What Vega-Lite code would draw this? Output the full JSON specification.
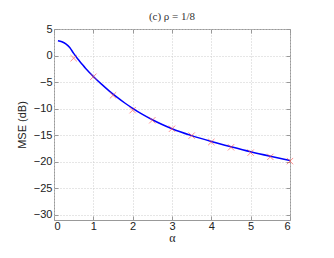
{
  "$schema": "https://vega.github.io/schema/vega-lite/v6.json",
  "autosize": "none",
  "width": 236,
  "height": 191,
  "padding": {"left": 54, "top": 29, "right": 44, "bottom": 38},
  "background": "white",
  "title": {"text": "(c) ρ = 1/8", "font": "Liberation Serif", "fontSize": 11, "fontWeight": "normal", "color": "#333333", "offset": 1},
  "datasets": {
    "curve": [
      {"alpha": 0.1, "mse": 2.8}, {"alpha": 0.2, "mse": 2.6}, {"alpha": 0.3, "mse": 2.2},
      {"alpha": 0.4, "mse": 1.5}, {"alpha": 0.5, "mse": 0.4}, {"alpha": 0.6, "mse": -0.6},
      {"alpha": 0.7, "mse": -1.5}, {"alpha": 0.8, "mse": -2.4}, {"alpha": 0.9, "mse": -3.2},
      {"alpha": 1.0, "mse": -3.95}, {"alpha": 1.2, "mse": -5.35}, {"alpha": 1.4, "mse": -6.65},
      {"alpha": 1.6, "mse": -7.85}, {"alpha": 1.8, "mse": -8.95}, {"alpha": 2.0, "mse": -9.95},
      {"alpha": 2.25, "mse": -11.1}, {"alpha": 2.5, "mse": -12.1}, {"alpha": 2.75, "mse": -13.0},
      {"alpha": 3.0, "mse": -13.8}, {"alpha": 3.5, "mse": -15.1}, {"alpha": 4.0, "mse": -16.2},
      {"alpha": 4.5, "mse": -17.2}, {"alpha": 5.0, "mse": -18.15}, {"alpha": 5.5, "mse": -19.0},
      {"alpha": 6.0, "mse": -19.8}
    ],
    "sim": [
      {"alpha": 0.5, "mse": -0.5}, {"alpha": 1.0, "mse": -4.0}, {"alpha": 1.5, "mse": -7.5},
      {"alpha": 2.0, "mse": -10.3}, {"alpha": 2.5, "mse": -12.2}, {"alpha": 3.0, "mse": -13.8},
      {"alpha": 3.5, "mse": -15.1}, {"alpha": 4.0, "mse": -16.3}, {"alpha": 4.5, "mse": -17.3},
      {"alpha": 5.0, "mse": -18.3}, {"alpha": 5.5, "mse": -19.1}, {"alpha": 6.0, "mse": -19.9}
    ]
  },
  "config": {
    "view": {"stroke": "#999999", "strokeWidth": 1},
    "axis": {
      "domain": false,
      "labelFont": "Liberation Sans",
      "labelFontSize": 11,
      "labelColor": "#222222",
      "titleFont": "Liberation Sans",
      "titleFontSize": 11,
      "titleFontWeight": "normal",
      "titleColor": "#222222",
      "tickColor": "#999999",
      "tickSize": -4,
      "labelPadding": 6,
      "gridColor": "#cccccc",
      "gridDash": [1, 2],
      "gridOpacity": 1
    }
  },
  "layer": [
    {
      "data": {"name": "curve"},
      "mark": {"type": "line", "color": "#0000ff", "strokeWidth": 1.5, "clip": true, "interpolate": "monotone"},
      "encoding": {
        "x": {"field": "alpha", "type": "quantitative",
              "scale": {"domain": [0, 6], "nice": false, "zero": false},
              "axis": {"values": [0, 1, 2, 3, 4, 5, 6], "title": "α", "titleFont": "Liberation Serif", "titleFontSize": 12, "titlePadding": 1, "labelPadding": 4}},
        "y": {"field": "mse", "type": "quantitative",
              "scale": {"domain": [-31, 5], "nice": false, "zero": false},
              "axis": {"values": [-30, -25, -20, -15, -10, -5, 0, 5], "title": "MSE (dB)", "titlePadding": 6}}
      }
    },
    {
      "data": {"name": "sim"},
      "mark": {"type": "point", "shape": "M-1,-1L1,1M1,-1L-1,1", "size": 40, "filled": false, "stroke": "#ff4444", "strokeWidth": 1, "opacity": 0.6},
      "encoding": {
        "x": {"field": "alpha", "type": "quantitative",
              "axis": {"orient": "top", "labels": false, "grid": false, "title": null, "values": [0, 1, 2, 3, 4, 5, 6]}},
        "y": {"field": "mse", "type": "quantitative",
              "axis": {"orient": "right", "labels": false, "grid": false, "title": null, "values": [-30, -25, -20, -15, -10, -5, 0, 5]}}
      }
    }
  ],
  "resolve": {"axis": {"x": "independent", "y": "independent"}}
}
